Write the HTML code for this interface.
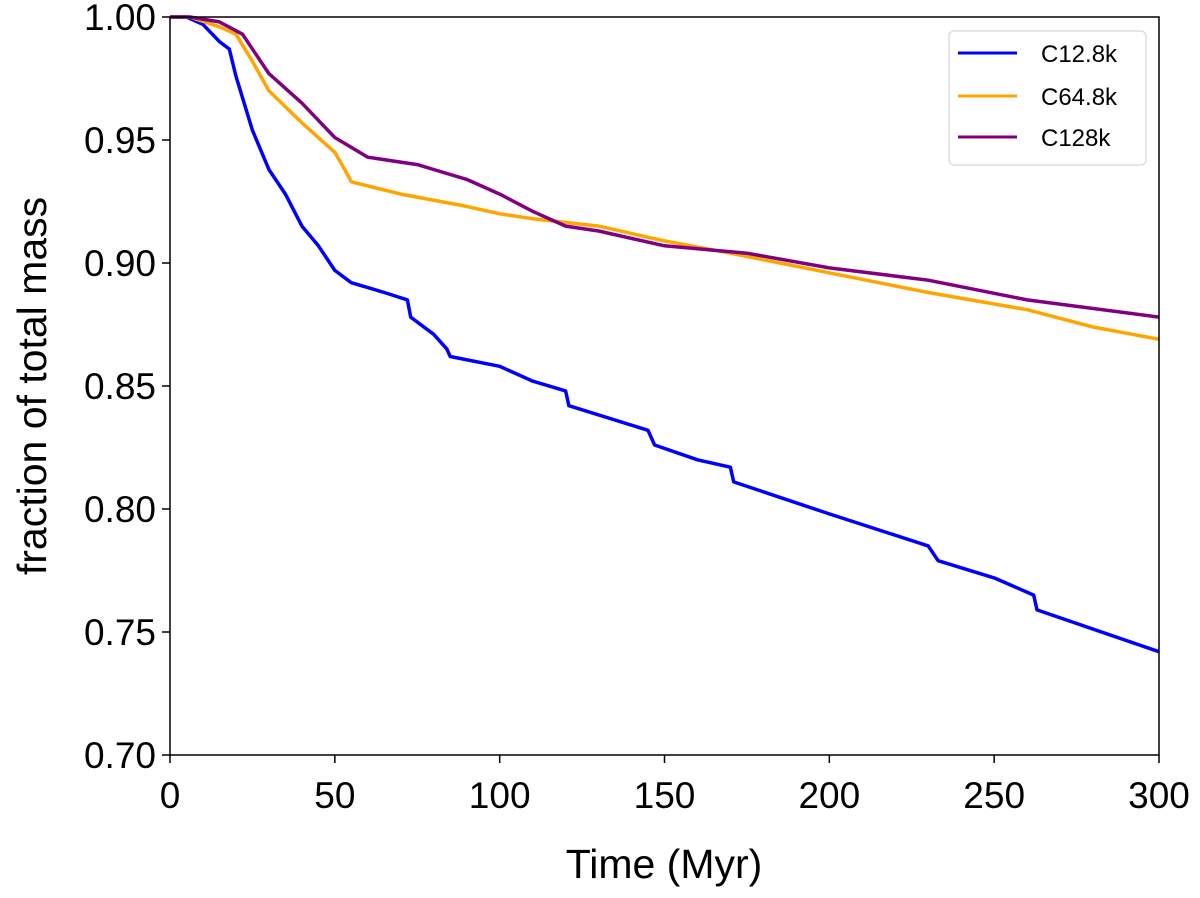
<!DOCTYPE html>
<html><head><meta charset="utf-8"><style>
body{margin:0;background:#fff;}
svg{display:block;font-family:"Liberation Sans",sans-serif;}
</style></head><body>
<svg id="chart" width="1200" height="898" viewBox="0 0 1200 898">
<g id="marks"></g>
<rect x="170" y="17" width="989" height="738" fill="none" stroke="#000" stroke-width="1.5"/>
<g id="ticks"></g>
<text x="664" y="878" font-size="41" text-anchor="middle">Time (Myr)</text>
<text transform="translate(46,386) rotate(-90)" font-size="41" text-anchor="middle">fraction of total mass</text>
<g>
<rect x="949" y="31" width="197" height="134" rx="5" fill="#fff" stroke="#ddd" stroke-width="1.5"/>
<line x1="958" y1="53" x2="1017" y2="53" stroke="#0000ff" stroke-width="3"/>
<text x="1041" y="62" font-size="24">C12.8k</text>
<line x1="958" y1="96" x2="1017" y2="96" stroke="#ffa500" stroke-width="3"/>
<text x="1041" y="105" font-size="24">C64.8k</text>
<line x1="958" y1="137" x2="1017" y2="137" stroke="#800080" stroke-width="3"/>
<text x="1041" y="146" font-size="24">C128k</text>
</g>
</svg>
<script>
const xTicks=[0,50,100,150,200,250,300];
const yTicks=[0.70,0.75,0.80,0.85,0.90,0.95,1.00];
const yTickLabels=["0.70","0.75","0.80","0.85","0.90","0.95","1.00"];
const blueT=[0,5,10,15,18,20,25,30,35,40,45,50,55,60,65,72,73,80,84,85,100,110,120,121,145,147,160,170,171,200,230,233,250,262,263,300];
const blueV=[1,1,0.997,0.99,0.987,0.976,0.954,0.938,0.928,0.915,0.907,0.897,0.892,0.89,0.888,0.885,0.878,0.871,0.865,0.862,0.858,0.852,0.848,0.842,0.832,0.826,0.82,0.817,0.811,0.798,0.785,0.779,0.772,0.765,0.759,0.742];
const orangeT=[0,6,15,20,25,30,40,50,53,55,70,90,100,110,130,150,170,200,230,260,280,300];
const orangeV=[1,1,0.996,0.993,0.982,0.97,0.957,0.945,0.938,0.933,0.928,0.923,0.92,0.918,0.915,0.909,0.904,0.896,0.888,0.881,0.874,0.869];
const purpleT=[0,6,15,22,30,40,50,60,75,80,90,100,110,120,130,150,175,200,230,260,300];
const purpleV=[1,1,0.998,0.993,0.977,0.965,0.951,0.943,0.94,0.938,0.934,0.928,0.921,0.915,0.913,0.907,0.904,0.898,0.893,0.885,0.878];
const X=t=>170+t*(989/300);
const Y=v=>17+(1-v)*(738/0.3);
const NS="http://www.w3.org/2000/svg";
const marks=document.getElementById('marks'),ticks=document.getElementById('ticks');
function series(T,V,color,name){
 const p=document.createElementNS(NS,'path');
 let d='';T.forEach((t,i)=>{d+=(i?'L':'M')+X(t).toFixed(1)+','+Y(V[i]).toFixed(1);});
 p.setAttribute('d',d);p.setAttribute('fill','none');p.setAttribute('stroke',color);p.setAttribute('stroke-width','3.5');p.setAttribute('stroke-linejoin','round');
 
 
 marks.appendChild(p);
}
series(blueT,blueV,'#0000ff','line-c12-8k');
series(orangeT,orangeV,'#ffa500','line-c64-8k');
series(purpleT,purpleV,'#800080','line-c128k');
xTicks.forEach(t=>{
 const l=document.createElementNS(NS,'line');
 l.setAttribute('x1',X(t));l.setAttribute('x2',X(t));l.setAttribute('y1',755);l.setAttribute('y2',763);l.setAttribute('stroke','#000');l.setAttribute('stroke-width','1.5');
 
 
 ticks.appendChild(l);
 const s=document.createElementNS(NS,'text');
 s.setAttribute('x',X(t));s.setAttribute('y',808);s.setAttribute('font-size','37');s.setAttribute('text-anchor','middle');s.textContent=t;
 
 
 ticks.appendChild(s);
});
yTicks.forEach((v,i)=>{
 const l=document.createElementNS(NS,'line');
 l.setAttribute('x1',162);l.setAttribute('x2',170);l.setAttribute('y1',Y(v));l.setAttribute('y2',Y(v));l.setAttribute('stroke','#000');l.setAttribute('stroke-width','1.5');
 
 
 ticks.appendChild(l);
 const s=document.createElementNS(NS,'text');
 s.setAttribute('x',156);s.setAttribute('y',Y(v)+13);s.setAttribute('font-size','37');s.setAttribute('text-anchor','end');s.textContent=yTickLabels[i];
 
 
 ticks.appendChild(s);
});
</script>
</body></html>
